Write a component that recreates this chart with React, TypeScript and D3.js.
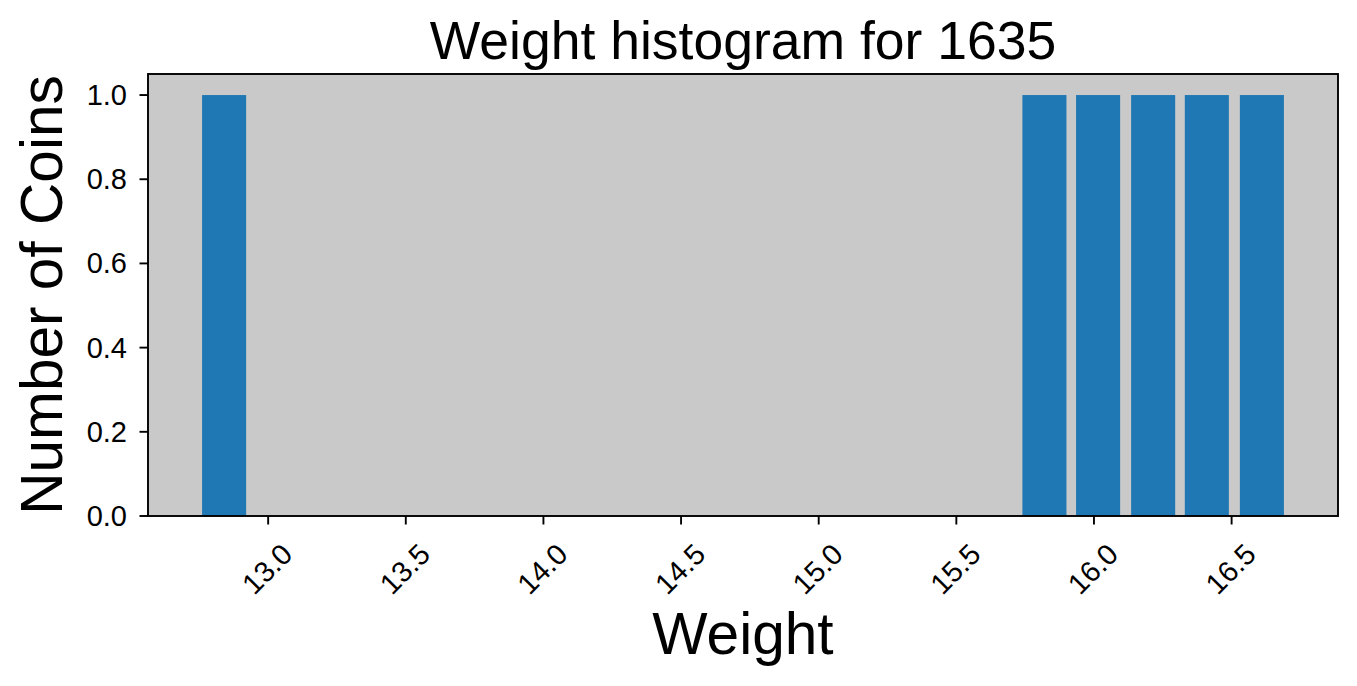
import React from "react";
import * as d3 from "d3";

const weights = [12.84, 15.82, 16.015, 16.215, 16.41, 16.61];
const counts = [1, 1, 1, 1, 1, 1];
const barWidth = 0.16;
const xTicks = [13.0, 13.5, 14.0, 14.5, 15.0, 15.5, 16.0, 16.5];
const yTicks = [0.0, 0.2, 0.4, 0.6, 0.8, 1.0];
const title = "Weight histogram for 1635";
const xLabel = "Weight";
const yLabel = "Number of Coins";

const W = 1357;
const H = 686;
const M = { left: 148, right: 1338, top: 74, bottom: 516 };
const FONT = "'Liberation Sans', Arial, Helvetica, sans-serif";
const TICK = 8.5;
const LW = 1.9;

export default function App() {
  const lo = d3.min(weights)! - barWidth / 2;
  const hi = d3.max(weights)! + barWidth / 2;
  const pad = (hi - lo) * 0.05;
  const x = d3.scaleLinear().domain([lo - pad, hi + pad]).range([M.left, M.right]);
  const y = d3.scaleLinear().domain([0, 1.05]).range([M.bottom, M.top]);
  const fmt = d3.format(".1f");
  return (
    <svg width={W} height={H} style={{ position: "absolute", left: 0, top: 0 }} fontFamily={FONT}>
      <rect x={0} y={0} width={W} height={H} fill="white" />
      <rect x={M.left} y={M.top} width={M.right - M.left} height={M.bottom - M.top} fill="#c9c9c9" />
      {weights.map((w, i) => (
        <rect
          key={i}
          x={x(w - barWidth / 2)}
          width={x(w + barWidth / 2) - x(w - barWidth / 2)}
          y={y(counts[i])}
          height={y(0) - y(counts[i])}
          fill="#1f77b4"
        />
      ))}
      <rect x={M.left} y={M.top} width={M.right - M.left} height={M.bottom - M.top} fill="none" stroke="black" strokeWidth={LW} />
      {xTicks.map((t) => (
        <g key={t}>
          <line x1={x(t)} x2={x(t)} y1={M.bottom} y2={M.bottom + TICK} stroke="black" strokeWidth={LW} />
          <text
            transform={`translate(${x(t) - 1},${569}) rotate(-45)`}
            textAnchor="middle"
            dominantBaseline="central"
            fontSize={29}
          >
            {fmt(t)}
          </text>
        </g>
      ))}
      {yTicks.map((t) => (
        <g key={t}>
          <line x1={M.left - TICK} x2={M.left} y1={y(t)} y2={y(t)} stroke="black" strokeWidth={LW} />
          <text x={M.left - 2 * TICK - 4} y={y(t)} textAnchor="end" dominantBaseline="central" fontSize={29}>
            {fmt(t)}
          </text>
        </g>
      ))}
      <text x={(M.left + M.right) / 2} y={59} textAnchor="middle" fontSize={53.5}>
        {title}
      </text>
      <text x={(M.left + M.right) / 2} y={654} textAnchor="middle" fontSize={58.6}>
        {xLabel}
      </text>
      <text
        transform={`translate(${62},${(M.top + M.bottom) / 2}) rotate(-90)`}
        textAnchor="middle"
        fontSize={58.6}
      >
        {yLabel}
      </text>
    </svg>
  );
}
